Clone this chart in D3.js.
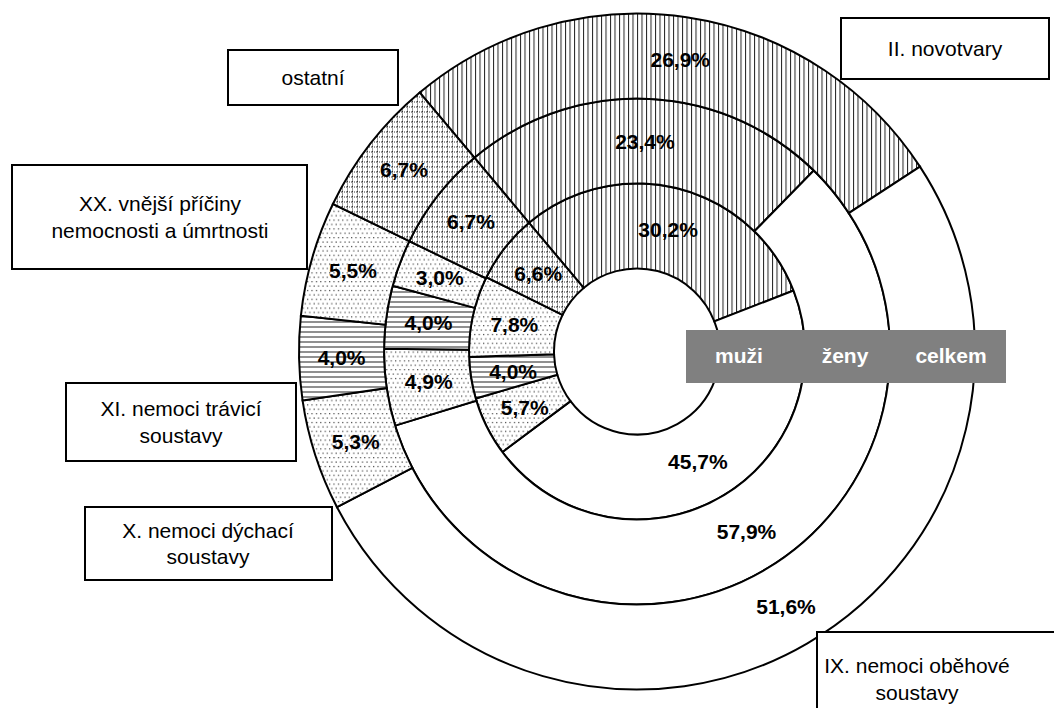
<!DOCTYPE html>
<html>
<head>
<meta charset="utf-8">
<script src="https://d3js.org/d3.v7.min.js"></script>
<style>
  body { margin: 0; background: #fff; }
  svg { display: block; }
</style>
</head>
<body>
<script>
// Chart data
var categories = ["II. novotvary", "IX. nemoci oběhové soustavy", "X. nemoci dýchací soustavy",
  "XI. nemoci trávicí soustavy", "XX. vnější příčiny nemocnosti a úmrtnosti", "ostatní"];
var seriesNames = ["muži", "ženy", "celkem"];
var muzi = [30.2, 45.7, 5.7, 4.0, 7.8, 6.6];
var zeny = [23.4, 57.9, 4.9, 4.0, 3.0, 6.7];
var celkem = [26.9, 51.6, 5.3, 4.0, 5.5, 6.7];

// category label lines as they are broken in the boxes
var labelLines = [
  ["II. novotvary"],
  ["IX. nemoci oběhové", "soustavy"],
  ["X. nemoci dýchací", "soustavy"],
  ["XI. nemoci trávicí", "soustavy"],
  ["XX. vnější příčiny", "nemocnosti a úmrtnosti"],
  ["ostatní"]
];

// Define SVG area dimensions
var svgWidth = 1054;
var svgHeight = 708;
var cx = 637, cy = 351.5;
var holeRadius = 83, outerRadius = 338;
var fontFamily = "Arial, 'Liberation Sans', sans-serif";
var fontSize = 21;

var svg = d3.select("body")
  .append("svg")
  .attr("width", svgWidth)
  .attr("height", svgHeight);

// fill patterns
var defs = svg.append("defs");

var pv = defs.append("pattern").attr("id", "pat-vert")
  .attr("patternUnits", "userSpaceOnUse").attr("width", 4.5).attr("height", 10);
pv.append("rect").attr("width", 4.5).attr("height", 10).attr("fill", "#fff");
pv.append("rect").attr("x", 0).attr("y", 0).attr("width", 1).attr("height", 10).attr("fill", "#222");

var ph = defs.append("pattern").attr("id", "pat-horiz")
  .attr("patternUnits", "userSpaceOnUse").attr("width", 10).attr("height", 5);
ph.append("rect").attr("width", 10).attr("height", 5).attr("fill", "#fff");
ph.append("rect").attr("x", 0).attr("y", 0).attr("width", 10).attr("height", 1).attr("fill", "#222");

var pd = defs.append("pattern").attr("id", "pat-dots")
  .attr("patternUnits", "userSpaceOnUse").attr("width", 4.4).attr("height", 8.8);
pd.append("rect").attr("width", 4.4).attr("height", 8.8).attr("fill", "#fff");
pd.append("rect").attr("x", 0).attr("y", 0).attr("width", 1.2).attr("height", 1.2).attr("fill", "#444");
pd.append("rect").attr("x", 2.2).attr("y", 4.4).attr("width", 1.2).attr("height", 1.2).attr("fill", "#444");

var pg = defs.append("pattern").attr("id", "pat-grid")
  .attr("patternUnits", "userSpaceOnUse").attr("width", 5).attr("height", 5);
pg.append("rect").attr("width", 5).attr("height", 5).attr("fill", "#fff");
[[0, 0], [2, 0], [4, 0], [0, 2], [0, 4]].forEach(function(p) {
  pg.append("rect").attr("x", p[0]).attr("y", p[1]).attr("width", 1).attr("height", 1).attr("fill", "#333");
});

var fills = ["url(#pat-vert)", "#fff", "url(#pat-dots)", "url(#pat-horiz)", "url(#pat-dots)", "url(#pat-grid)"];

// rings: inner = muži, middle = ženy, outer = celkem
var ringScale = d3.scaleBand()
  .domain(seriesNames)
  .range([holeRadius, outerRadius]);

var startAngle = -40 * Math.PI / 180;
var pie = d3.pie()
  .sort(null)
  .startAngle(startAngle)
  .endAngle(startAngle + 2 * Math.PI);

var czFormat = d3.formatLocale({ decimal: ",", thousands: " ", grouping: [3], currency: ["", " Kč"] }).format(".1f");

var seriesData = [muzi, zeny, celkem];

var chartGroup = svg.append("g")
  .attr("transform", `translate(${cx}, ${cy})`);

seriesNames.forEach(function(name, si) {
  var arc = d3.arc()
    .innerRadius(ringScale(name))
    .outerRadius(ringScale(name) + ringScale.bandwidth());

  var arcs = pie(seriesData[si]);

  chartGroup.append("g")
    .selectAll("path")
    .data(arcs)
    .enter()
    .append("path")
    .attr("d", arc)
    .attr("fill", (d, i) => fills[i])
    .attr("stroke", "#000")
    .attr("stroke-width", 2);

  chartGroup.append("g")
    .selectAll("text")
    .data(arcs)
    .enter()
    .append("text")
    .attr("x", d => arc.centroid(d)[0])
    .attr("y", d => arc.centroid(d)[1])
    .attr("dy", "0.35em")
    .attr("text-anchor", "middle")
    .attr("font-family", fontFamily)
    .attr("font-size", fontSize)
    .attr("font-weight", "bold")
    .attr("fill", "#000")
    .text(d => czFormat(d.data) + "%");
});

// grey ring legend bar
var barX = d3.scalePoint()
  .domain(seriesNames)
  .range([739, 951]);

svg.append("rect")
  .attr("x", 686)
  .attr("y", 330)
  .attr("width", 320)
  .attr("height", 53)
  .attr("fill", "#808080");

svg.append("g")
  .selectAll("text")
  .data(seriesNames)
  .enter()
  .append("text")
  .attr("x", d => barX(d))
  .attr("y", 363)
  .attr("text-anchor", "middle")
  .attr("font-family", fontFamily)
  .attr("font-size", fontSize)
  .attr("font-weight", "bold")
  .attr("fill", "#fff")
  .text(d => d);

// category label boxes [x, y, w, h, textX]
var boxes = [
  [841, 18, 208, 61, 945],
  [817, 632, 260, 90, 917],
  [85, 507, 247, 73, 208],
  [66, 383, 230, 78, 181],
  [12, 165, 295, 104, 160],
  [228, 50, 170, 55, 313]
];

var boxGroup = svg.append("g");

categories.forEach(function(cat, i) {
  var b = boxes[i];
  var lines = labelLines[i];
  var lineHeight = 26.5;
  var midY = (i === 1) ? 679 : b[1] + b[3] / 2;
  boxGroup.append("rect")
    .attr("x", b[0])
    .attr("y", b[1])
    .attr("width", b[2])
    .attr("height", b[3])
    .attr("fill", "#fff")
    .attr("stroke", "#000")
    .attr("stroke-width", 2);

  var t = boxGroup.append("text")
    .attr("text-anchor", "middle")
    .attr("font-family", fontFamily)
    .attr("font-size", fontSize)
    .attr("fill", "#000");

  lines.forEach(function(line, li) {
    t.append("tspan")
      .attr("x", b[4])
      .attr("y", midY + (li - (lines.length - 1) / 2) * lineHeight)
      .attr("dy", "0.35em")
      .text(line);
  });
});
</script>
</body>
</html>
